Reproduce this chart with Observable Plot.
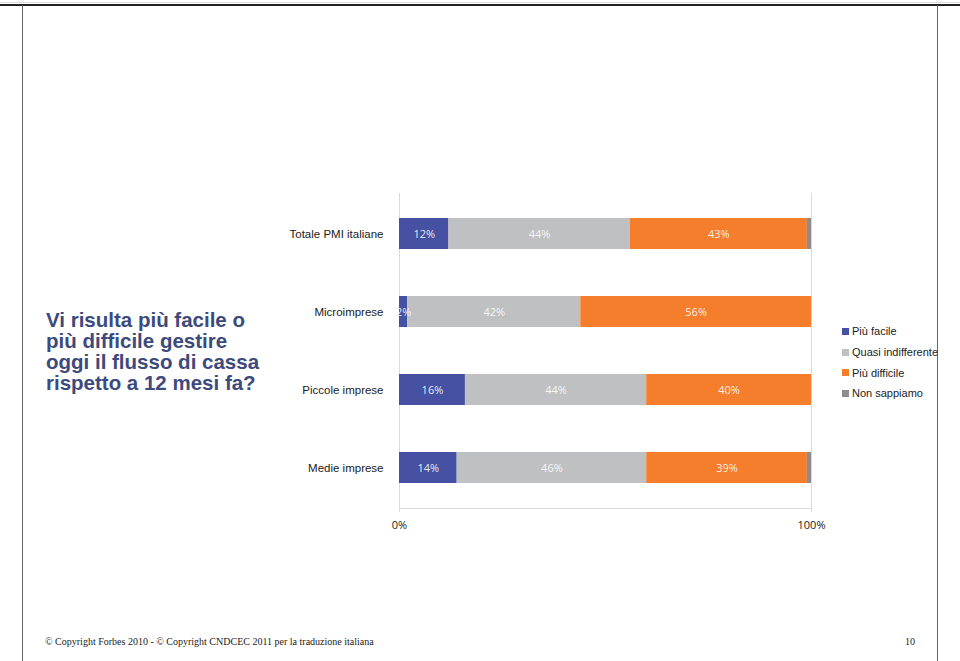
<!DOCTYPE html>
<html>
<head>
<meta charset="utf-8">
<script src="https://cdn.jsdelivr.net/npm/d3@7"></script>
<script src="https://cdn.jsdelivr.net/npm/@observablehq/plot@0.6"></script>
<style>
  html, body { margin: 0; padding: 0; background: #fff; }
  #page { position: relative; width: 960px; height: 661px; overflow: hidden; }
  #chart { position: absolute; left: 0; top: 0; }
  .abs { position: absolute; }
  #title { left: 46px; top: 309px; font: bold 20.5px "Liberation Sans", Arial, sans-serif; color: #3c4a7c; line-height: 21px; }
  #legend { left: 842px; top: 321px; font: 11px "Liberation Sans", Arial, sans-serif; color: #222; }
  .li { display: flex; align-items: center; height: 20.7px; }
  .sw { width: 7px; height: 7px; margin-right: 3px; }
  #footer { left: 45px; top: 636px; font: 10px "Liberation Serif", "Times New Roman", serif; color: #222; }
  #pageno { left: 905px; top: 636px; font: 10px "Liberation Serif", "Times New Roman", serif; color: #222; }
</style>
</head>
<body>
<div id="page">
  <div id="chart"></div>
  <div class="abs" style="left:0;top:2px;width:960px;height:1px;background:#d8dbe3"></div>
  <div class="abs" style="left:0;top:4px;width:960px;height:2px;background:#222"></div>
  <div class="abs" style="left:22px;top:5px;width:1px;height:656px;background:#666"></div>
  <div class="abs" style="left:937px;top:5px;width:1px;height:656px;background:#666"></div>
  <div id="title" class="abs"></div>
  <div id="legend" class="abs"></div>
  <div id="footer" class="abs">© Copyright Forbes 2010 - © Copyright CNDCEC 2011 per la traduzione italiana</div>
  <div id="pageno" class="abs">10</div>
</div>
<script>
const titleLines = ["Vi risulta più facile o", "più difficile gestire", "oggi il flusso di cassa", "rispetto a 12 mesi fa?"];
const categories = ["Totale PMI italiane", "Microimprese", "Piccole imprese", "Medie imprese"];
const responses = ["Più facile", "Quasi indifferente", "Più difficile", "Non sappiamo"];
const colors = ["#4651a3", "#bfc0c2", "#f47e2b", "#8c8c8e"];
const piuFacile = [12, 2, 16, 14];
const quasiIndifferente = [44, 42, 44, 46];
const piuDifficile = [43, 56, 40, 39];
const nonSappiamo = [1, 0, 0, 1];
const xTicks = [0, 100];

const series = [piuFacile, quasiIndifferente, piuDifficile, nonSappiamo];
const data = [];
categories.forEach((c, i) => {
  responses.forEach((r, j) => {
    data.push({cat: c, resp: r, value: series[j][i]});
  });
});

document.getElementById("title").innerHTML = titleLines.join("<br>");
document.getElementById("legend").innerHTML = responses.map((r, i) =>
  `<div class="li"><div class="sw" style="background:${colors[i]}"></div>${r}</div>`).join("");

const chart = Plot.plot({
  width: 960,
  height: 661,
  marginLeft: 399,
  marginRight: 149,
  marginTop: 193,
  marginBottom: 153,
  x: {domain: [0, 100]},
  y: {domain: categories, paddingInner: 0.6, paddingOuter: 0.3, align: 0.5},
  color: {domain: responses, range: colors},
  marks: [
    Plot.ruleX(xTicks, {stroke: "#d9d9d9", strokeWidth: 1}),
    Plot.frame({anchor: "bottom", stroke: "#d9d9d9"}),
    Plot.barX(data, Plot.stackX({x: "value", y: "cat", fill: "resp", order: responses})),
    Plot.text(data, Plot.stackX({
      x: "value", y: "cat", z: "resp", order: responses,
      text: d => d.value >= 2 ? d.value + "%" : "",
      fill: "white", fillOpacity: 0.9,
      fontSize: 11, fontFamily: "Open Sans"
    })),
    Plot.axisX(xTicks, {
      tickSize: 4, tickPadding: 9, stroke: "#d9d9d9", fill: "#222",
      tickFormat: d => d + "%", fontSize: 11, fontFamily: "Open Sans", label: null
    }),
    Plot.axisY({
      tickSize: 0, tickPadding: 16, fill: "#222",
      fontSize: 11.5, fontFamily: "Liberation Sans", label: null
    })
  ]
});
document.getElementById("chart").appendChild(chart);
</script>
</body>
</html>
